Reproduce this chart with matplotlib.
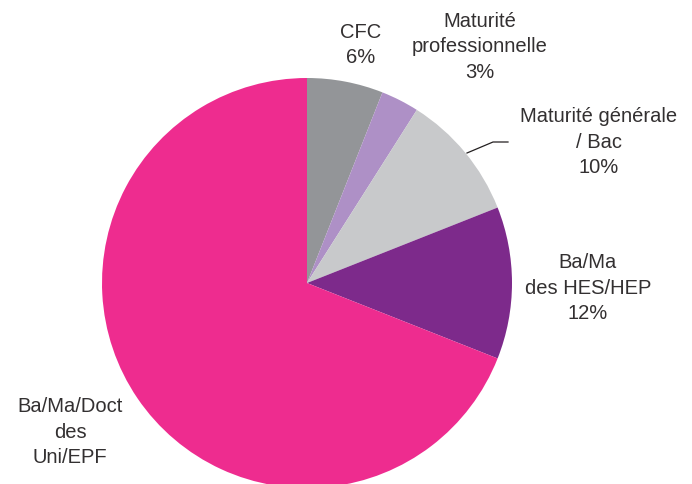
import matplotlib.pyplot as plt

# Parts of the pie, clockwise from the top
labels = ['CFC', 'Maturité\nprofessionnelle', 'Maturité générale\n/ Bac',
          'Ba/Ma\ndes HES/HEP', 'Ba/Ma/Doct\ndes\nUni/EPF']
shares = [6, 3, 10, 12, 69]
pct_text = ['6%', '3%', '10%', '12%', '']
colors = ['#939598', '#ae90c6', '#c8c9cb', '#7d2a8b', '#ee2c8f']

plt.rcParams['font.family'] = ['Liberation Sans', 'DejaVu Sans']

W, H = 692, 484
fig = plt.figure(figsize=(W / 100, H / 100), dpi=100)
ax = fig.add_axes([0, 0, 1, 1])

cx, cy, r = 307, H - 283, 205
ax.pie(shares, colors=colors, startangle=90, counterclock=False,
       center=(cx, cy), radius=r, frame=True,
       wedgeprops=dict(linewidth=0))
ax.set_xlim(0, W)
ax.set_ylim(0, H)
ax.set_aspect('equal')
ax.axis('off')

# label positions in pixels (x, y from top)
label_pos = [(361, 45), (480, 47), (599, 142), (588, 288), (70, 432)]
for lab, pct, (px, py) in zip(labels, pct_text, label_pos):
    txt = lab if pct == '' else lab + '\n' + pct
    ax.text(px, H - py, txt, ha='center', va='center', fontsize=14.5,
            color='#333031', linespacing=1.45)

# leader line for Maturité générale
ax.plot([467, 493, 508], [H - 153, H - 142, H - 142], color='#231f20', lw=0.9)

fig.savefig('out.png', dpi=100)
